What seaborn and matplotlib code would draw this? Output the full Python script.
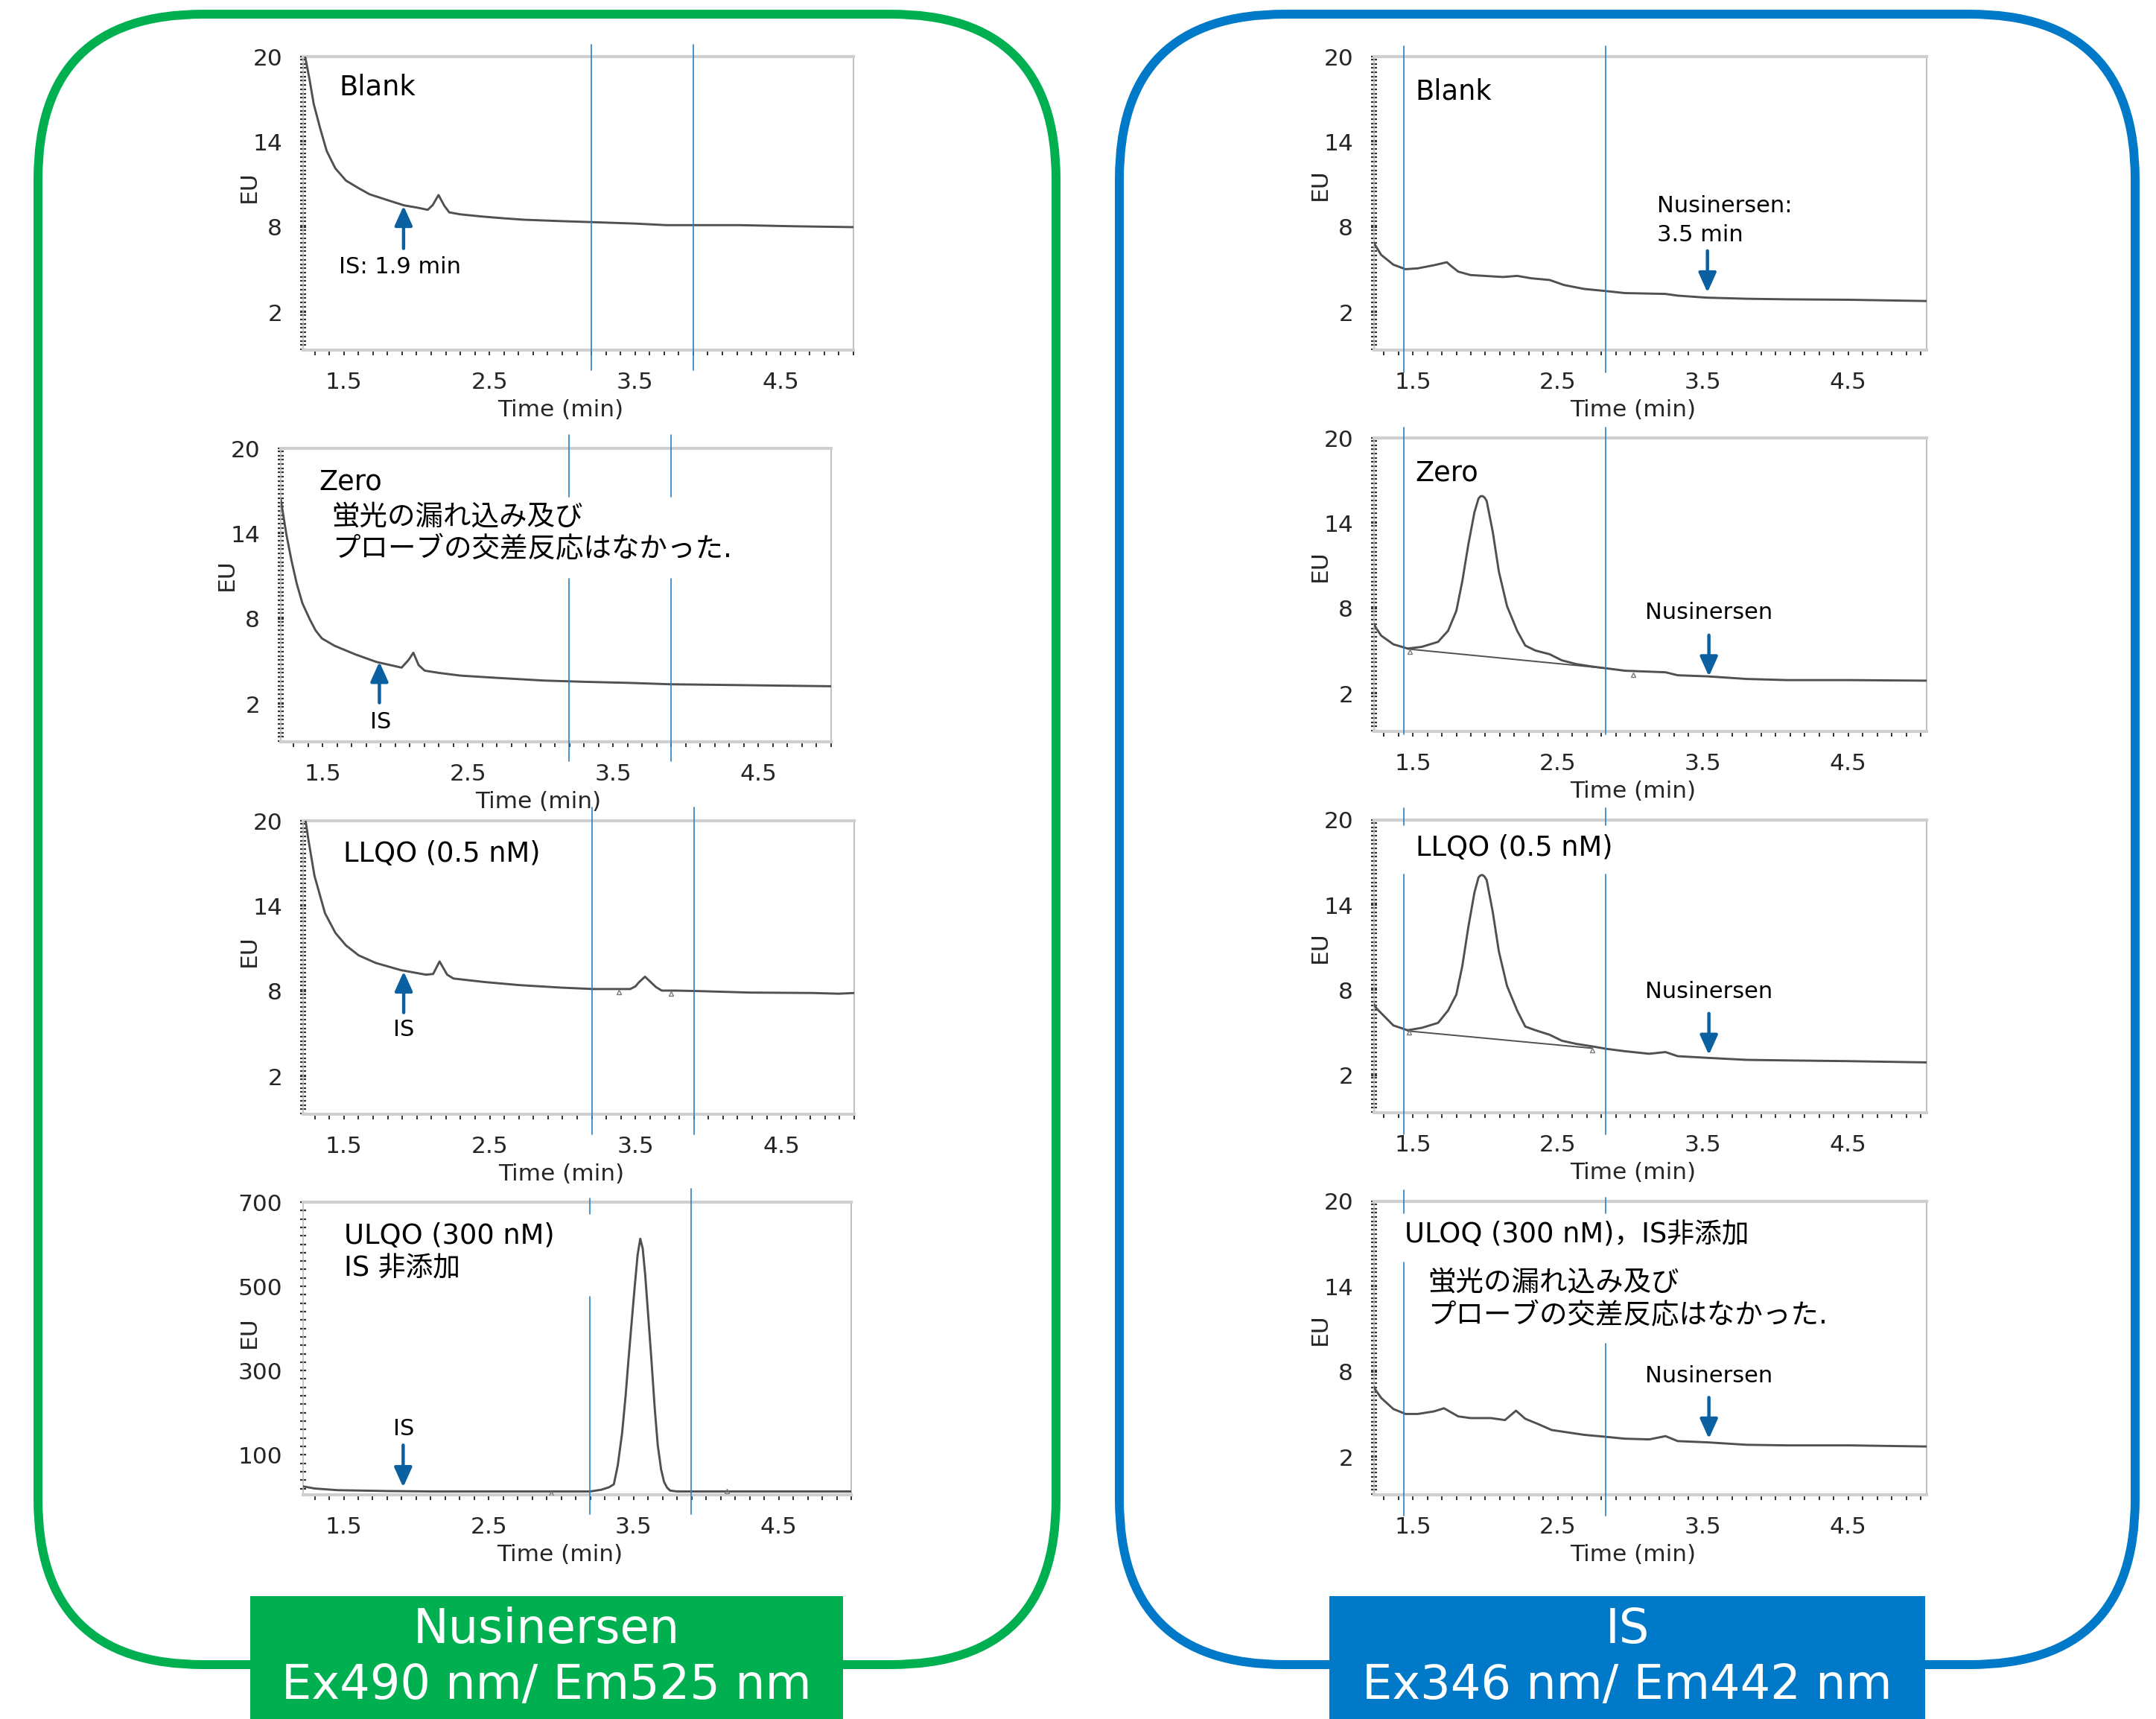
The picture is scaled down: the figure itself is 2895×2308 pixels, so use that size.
import matplotlib
matplotlib.use('Agg')
import matplotlib.pyplot as plt
import seaborn as sns
import pandas as pd
from matplotlib.patches import FancyBboxPatch, Rectangle
from matplotlib.ticker import MultipleLocator, FixedLocator
from matplotlib.patches import ArrowStyle

sns.set_style('white')
plt.rcParams['font.family'] = ['DejaVu Sans', 'Noto Sans CJK JP']

# ---------------- data ----------------
# Nusinersen channel (Ex490/Em525)
L_BLANK_T = [1.22, 1.234, 1.264, 1.293, 1.338, 1.382, 1.441, 1.515, 1.6, 1.677, 1.8, 1.914, 2.0, 2.076,
             2.11, 2.15, 2.19, 2.224, 2.3, 2.445, 2.6, 2.74, 3.0, 3.21, 3.5, 3.716, 4.0, 4.218, 4.6, 5.0]
L_BLANK_V = [21.5, 20.0, 18.4, 16.66, 14.92, 13.36, 12.14, 11.27, 10.75, 10.31, 9.9, 9.53, 9.38, 9.22,
             9.55, 10.26, 9.5, 9.04, 8.9, 8.75, 8.62, 8.52, 8.42, 8.35, 8.25, 8.14, 8.14, 8.14, 8.06, 8.0]

L_ZERO_T = [1.211, 1.23, 1.249, 1.285, 1.321, 1.36, 1.408, 1.45, 1.494, 1.581, 1.725, 1.87, 2.043, 2.09,
            2.124, 2.16, 2.202, 2.3, 2.448, 2.7, 3.026, 3.315, 3.6, 3.893, 4.3, 4.997]
L_ZERO_V = [16.4, 15.2, 13.98, 12.1, 10.48, 9.1, 8.03, 7.2, 6.63, 6.11, 5.5, 4.97, 4.57, 5.1,
            5.62, 4.75, 4.36, 4.2, 4.01, 3.85, 3.66, 3.57, 3.5, 3.4, 3.35, 3.26]

L_LLQO_T = [1.22, 1.24, 1.255, 1.298, 1.37, 1.442, 1.514, 1.601, 1.717, 1.89, 2.063, 2.112, 2.156, 2.208,
            2.251, 2.467, 2.698, 2.987, 3.21, 3.464, 3.5, 3.521, 3.565, 3.608, 3.64, 3.68, 3.767, 3.917,
            4.287, 4.72, 4.893, 5.0]
L_LLQO_V = [21.0, 19.8, 18.75, 16.13, 13.5, 12.1, 11.23, 10.53, 10.0, 9.49, 9.17, 9.22, 10.1, 9.17,
            8.9, 8.65, 8.44, 8.26, 8.16, 8.16, 8.35, 8.61, 9.03, 8.61, 8.3, 8.05, 8.05, 8.02,
            7.91, 7.88, 7.83, 7.88]

L_ULQO_T = [1.22, 1.3, 1.46, 1.8, 2.1, 2.5, 2.9, 3.2, 3.276, 3.33, 3.363, 3.39, 3.42, 3.444, 3.464, 3.487,
            3.507, 3.527, 3.545, 3.562, 3.579, 3.6, 3.622, 3.645, 3.666, 3.689, 3.709, 3.73, 3.752, 3.8,
            4.2, 4.6, 5.0]
L_ULQO_V = [25, 20, 16, 14, 13, 13, 13, 13, 17, 23, 30, 75, 152, 240, 326, 420,
            500, 575, 613, 590, 528, 430, 326, 210, 122, 65, 36, 22, 15, 13,
            13, 13, 13]

# IS channel (Ex346/Em442)
R_BLANK_T = [1.233, 1.24, 1.282, 1.366, 1.45, 1.534, 1.646, 1.735, 1.76, 1.813, 1.897, 2.121, 2.219, 2.317,
             2.443, 2.541, 2.681, 2.832, 2.961, 3.241, 3.325, 3.52, 3.8, 4.08, 4.5, 5.04]
R_BLANK_V = [6.9, 6.75, 6.05, 5.36, 5.04, 5.1, 5.32, 5.53, 5.3, 4.87, 4.63, 4.49, 4.57, 4.4,
             4.28, 3.93, 3.65, 3.5, 3.36, 3.3, 3.18, 3.04, 2.96, 2.92, 2.89, 2.8]

R_ZERO_T = [1.233, 1.248, 1.282, 1.366, 1.464, 1.562, 1.674, 1.743, 1.8, 1.841, 1.883, 1.925, 1.953, 1.967,
            1.981, 1.995, 2.009, 2.051, 2.093, 2.149, 2.219, 2.275, 2.345, 2.443, 2.527, 2.625, 2.737, 2.832,
            2.961, 3.241, 3.325, 3.535, 3.8, 4.08, 4.5, 5.04]
R_ZERO_V = [6.9, 6.61, 6.09, 5.48, 5.18, 5.3, 5.65, 6.43, 7.83, 9.91, 12.52, 14.78, 15.74, 15.9,
            15.91, 15.8, 15.57, 13.39, 10.6, 8.17, 6.43, 5.39, 5.04, 4.78, 4.35, 4.09, 3.91, 3.79,
            3.62, 3.51, 3.3, 3.22, 3.04, 2.96, 2.96, 2.92]

R_LLQO_T = [1.233, 1.248, 1.366, 1.464, 1.562, 1.674, 1.743, 1.8, 1.841, 1.883, 1.925, 1.953, 1.967, 1.981,
            1.995, 2.009, 2.051, 2.093, 2.149, 2.219, 2.275, 2.345, 2.443, 2.527, 2.625, 2.737, 2.832, 2.961,
            3.129, 3.241, 3.325, 3.535, 3.8, 4.08, 4.5, 5.04]
R_LLQO_V = [7.0, 6.73, 5.51, 5.17, 5.34, 5.69, 6.56, 7.69, 9.69, 12.47, 14.9, 15.95, 16.1, 16.12,
            16.0, 15.77, 13.51, 10.73, 8.3, 6.56, 5.43, 5.17, 4.85, 4.43, 4.21, 4.03, 3.86, 3.69,
            3.51, 3.63, 3.34, 3.22, 3.08, 3.04, 2.99, 2.9]

R_ULOQ_T = [1.233, 1.24, 1.282, 1.366, 1.45, 1.534, 1.646, 1.715, 1.813, 1.897, 2.037, 2.135, 2.211, 2.275,
            2.359, 2.457, 2.569, 2.681, 2.832, 2.961, 3.129, 3.241, 3.325, 3.535, 3.8, 4.08, 4.5, 5.04]
R_ULOQ_V = [6.95, 6.78, 6.17, 5.39, 5.04, 5.04, 5.22, 5.44, 4.87, 4.75, 4.75, 4.61, 5.27, 4.7,
            4.35, 3.91, 3.74, 3.57, 3.43, 3.3, 3.25, 3.48, 3.13, 3.04, 2.87, 2.83, 2.83, 2.75]

# integration windows (min)
NUS_WINDOW = [3.2, 3.9]
IS_WINDOW = [1.44, 2.83]
# peak baselines drawn by the integrator
R_ZERO_BASE = ([1.464, 2.832], [5.15, 3.79])
R_LLQO_BASE = ([1.464, 2.737], [5.12, 3.9])
# integration markers
L_LLQO_MARK = ([3.386, 3.744], [7.95, 7.83])
L_ULQO_MARK = ([2.93, 4.14], [8, 14])
R_ZERO_MARK = ([1.478, 3.02], [4.96, 3.34])
R_LLQO_MARK = ([1.472, 2.737], [5.0, 3.74])

X_TICKS = [1.5, 2.5, 3.5, 4.5]
Y_TICKS_EU = [2, 8, 14, 20]
Y_TICKS_HI = [100, 300, 500, 700]

JP1 = '蛍光の漏れ込み及び'
JP2 = 'プローブの交差反応はなかった.'

# ---------------- styling ----------------
W, H = 2895, 2308
GREEN = '#00b050'
BLUE = '#0079c8'
ARROW = '#0a60a0'
VLINE = '#2b7fc3'
CURVE = '#505050'
FS_TICK = 22.5
FS_TITLE = 26.5
FS_ANN = 22
FS_JP = 27

fig = plt.figure(figsize=(W / 100, H / 100), dpi=100)

bg = fig.add_axes([0, 0, 1, 1])
bg.set_xlim(0, W)
bg.set_ylim(H, 0)
bg.axis('off')

bg.add_patch(FancyBboxPatch((51, 19), 1418 - 51, 2235 - 19, boxstyle='round,pad=0,rounding_size=222',
                            fill=False, ec=GREEN, lw=8.6))
bg.add_patch(FancyBboxPatch((1503, 19), 2867 - 1503, 2235 - 19, boxstyle='round,pad=0,rounding_size=222',
                            fill=False, ec=BLUE, lw=8.6))
bg.add_patch(Rectangle((336, 2143), 796, 180, fc=GREEN, ec='none'))
bg.add_patch(Rectangle((1785, 2143), 800, 180, fc=BLUE, ec='none'))
bg.text(734, 2188, 'Nusinersen', ha='center', va='center', color='white', fontsize=46)
bg.text(734, 2263, 'Ex490 nm/ Em525 nm', ha='center', va='center', color='white', fontsize=46)
bg.text(2185, 2188, 'IS', ha='center', va='center', color='white', fontsize=46)
bg.text(2185, 2263, 'Ex346 nm/ Em442 nm', ha='center', va='center', color='white', fontsize=46)


def px_rect(x0, y0, x1, y1):
    return [x0 / W, 1 - y1 / H, (x1 - x0) / W, (y1 - y0) / H]


PANELS = [
    dict(rect=(407, 76, 1146, 470), xlim=(1.22, 5.0), t=L_BLANK_T, v=L_BLANK_V, hi=False,
         vl=[(NUS_WINDOW[0], [(-0.069, 1.041)]), (NUS_WINDOW[1], [(-0.069, 1.041)])],
         texts=[(0.066, 0.896, 'Blank', FS_TITLE, 'left'), (0.065, 0.284, 'IS: 1.9 min', FS_ANN, 'left')],
         arrows=[(1.91, 9.5, 6.5)], ylab=0.556),
    dict(rect=(377, 602, 1116, 996), xlim=(1.211, 5.0), t=L_ZERO_T, v=L_ZERO_V, hi=False,
         vl=[(3.194, [(-0.066, 0.556), (0.835, 1.046)]), (3.899, [(-0.066, 0.556), (0.835, 1.046)])],
         texts=[(0.07, 0.886, 'Zero', FS_TITLE, 'left'), (0.093, 0.764, JP1, FS_JP, 'left'),
                (0.093, 0.655, JP2, FS_JP, 'left'), (0.181, 0.066, 'IS', FS_ANN, 'center')],
         arrows=[(1.89, 4.98, 2.1)], ylab=0.57),
    dict(rect=(407, 1102, 1147, 1496), xlim=(1.22, 5.0), t=L_LLQO_T, v=L_LLQO_V, hi=False,
         vl=[(NUS_WINDOW[0], [(-0.069, 1.046)]), (NUS_WINDOW[1], [(-0.069, 1.046)])],
         texts=[(0.073, 0.886, 'LLQO (0.5 nM)', FS_TITLE, 'left'), (0.183, 0.287, 'IS', FS_ANN, 'center')],
         arrows=[(1.91, 9.4, 6.5)], marks=L_LLQO_MARK, ylab=0.556),
    dict(rect=(407, 1614, 1143, 2007), xlim=(1.22, 5.0), t=L_ULQO_T, v=L_ULQO_V, hi=True,
         vl=[(3.196, [(-0.066, 0.678), (0.959, 1.013)]), (3.898, [(-0.066, 1.046)])],
         texts=[(0.075, 0.883, 'ULQO (300 nM)', FS_TITLE, 'left'), (0.075, 0.774, 'IS 非添加', FS_TITLE, 'left'),
                (0.184, 0.226, 'IS', FS_ANN, 'center')],
         arrows=[(1.91, 23, 123)], marks=L_ULQO_MARK, ylab=0.556),
    dict(rect=(1845, 76, 2587, 470), xlim=(1.233, 5.04), t=R_BLANK_T, v=R_BLANK_V, hi=False,
         vl=[(IS_WINDOW[0], [(-0.076, 1.036)]), (IS_WINDOW[1], [(-0.076, 1.036)])],
         texts=[(0.075, 0.88, 'Blank', FS_TITLE, 'left'), (0.512, 0.49, 'Nusinersen:', FS_ANN, 'left'),
                (0.512, 0.393, '3.5 min', FS_ANN, 'left')],
         arrows=[(3.53, 3.4, 6.33)], ylab=0.565),
    dict(rect=(1845, 588, 2587, 982), xlim=(1.233, 5.04), t=R_ZERO_T, v=R_ZERO_V, hi=False,
         vl=[(IS_WINDOW[0], [(-0.01, 1.036)]), (IS_WINDOW[1], [(-0.01, 1.036)])],
         texts=[(0.075, 0.881, 'Zero', FS_TITLE, 'left'), (0.49, 0.404, 'Nusinersen', FS_ANN, 'left')],
         arrows=[(3.54, 3.22, 6.12)], base=R_ZERO_BASE, marks=R_ZERO_MARK, ylab=0.565),
    dict(rect=(1845, 1101, 2587, 1494), xlim=(1.233, 5.04), t=R_LLQO_T, v=R_LLQO_V, hi=False,
         vl=[(IS_WINDOW[0], [(-0.074, 0.815), (0.982, 1.04)]), (IS_WINDOW[1], [(-0.074, 0.815), (0.982, 1.04)])],
         texts=[(0.075, 0.904, 'LLQO (0.5 nM)', FS_TITLE, 'left'), (0.49, 0.414, 'Nusinersen', FS_ANN, 'left')],
         arrows=[(3.54, 3.43, 6.35)], base=R_LLQO_BASE, marks=R_LLQO_MARK, ylab=0.565),
    dict(rect=(1845, 1613, 2587, 2007), xlim=(1.233, 5.04), t=R_ULOQ_T, v=R_ULOQ_V, hi=False,
         vl=[(IS_WINDOW[0], [(-0.071, 0.792), (0.959, 1.038)]), (IS_WINDOW[1], [(-0.071, 0.515), (0.959, 1.013)])],
         texts=[(0.055, 0.886, 'ULOQ (300 nM)，IS非添加', FS_TITLE, 'left'), (0.097, 0.723, JP1, FS_JP, 'left'),
                (0.097, 0.609, JP2, FS_JP, 'left'), (0.49, 0.404, 'Nusinersen', FS_ANN, 'left')],
         arrows=[(3.54, 3.3, 6.2)], ylab=0.565),
]

arrow_style = ArrowStyle('-|>', head_length=0.8, head_width=0.36)

for p in PANELS:
    ax = fig.add_axes(px_rect(*p['rect']))
    df = pd.DataFrame({'Time (min)': p['t'], 'EU': p['v']})
    sns.lineplot(data=df, x='Time (min)', y='EU', ax=ax, color=CURVE, lw=2.1, sort=False,
                 estimator=None, zorder=3)
    if 'base' in p:
        ax.plot(p['base'][0], p['base'][1], color=CURVE, lw=1.4, zorder=3)
    if 'marks' in p:
        ax.plot(p['marks'][0], p['marks'][1], ls='none', marker='^', ms=5, mfc='none',
                mec='#777777', mew=1.0, zorder=3)
    ax.set_xlim(*p['xlim'])
    if p['hi']:
        ax.set_ylim(5, 700)
        ax.yaxis.set_major_locator(FixedLocator(Y_TICKS_HI))
        ax.yaxis.set_minor_locator(MultipleLocator(20))
    else:
        ax.set_ylim(-0.65, 20)
        ax.yaxis.set_major_locator(FixedLocator(Y_TICKS_EU))
        ax.yaxis.set_minor_locator(MultipleLocator(0.3))
    ax.xaxis.set_major_locator(FixedLocator(X_TICKS))
    ax.xaxis.set_minor_locator(MultipleLocator(0.1))
    ax.set_xticklabels([f'{x:.1f}' for x in X_TICKS])

    ax.tick_params(axis='x', which='both', direction='out', length=5, width=1.4, color='#333333',
                   bottom=True, labelsize=FS_TICK, pad=16)
    ax.tick_params(axis='y', which='both', direction='inout', length=6, width=1.6, color='#333333',
                   left=True, labelsize=FS_TICK, pad=17)
    for s in ['top', 'bottom']:
        ax.spines[s].set_color('#cfcfcf')
        ax.spines[s].set_linewidth(3.0)
    ax.spines['right'].set_color('#b5b5b5')
    ax.spines['right'].set_linewidth(1.2)
    ax.spines['left'].set_color('#bdbdbd')
    ax.spines['left'].set_linewidth(1.2)

    ax.set_xlabel('Time (min)', fontsize=FS_TICK)
    ax.xaxis.label.set_va('center')
    ax.xaxis.set_label_coords(0.468, -0.205)
    ax.set_ylabel('EU', fontsize=FS_TICK)
    ax.yaxis.label.set_va('center')
    ax.yaxis.label.set_ha('center')
    ax.yaxis.set_label_coords(-0.098, p['ylab'])

    trans = ax.get_xaxis_transform()
    for x, segs in p['vl']:
        for y0, y1 in segs:
            ax.plot([x, x], [y0, y1], transform=trans, color=VLINE, lw=1.2, clip_on=False, zorder=4)

    for tx, ty, s, fs, ha in p['texts']:
        ax.text(tx, ty, s, transform=ax.transAxes, fontsize=fs, ha=ha, va='center', color='black', zorder=6)

    for t, tip, tail in p['arrows']:
        ax.annotate('', xy=(t, tip), xytext=(t, tail),
                    arrowprops=dict(arrowstyle=arrow_style, color=ARROW, lw=3.2,
                                    mutation_scale=20, shrinkA=0, shrinkB=0), zorder=5)

fig.savefig('out.png', dpi=100)
